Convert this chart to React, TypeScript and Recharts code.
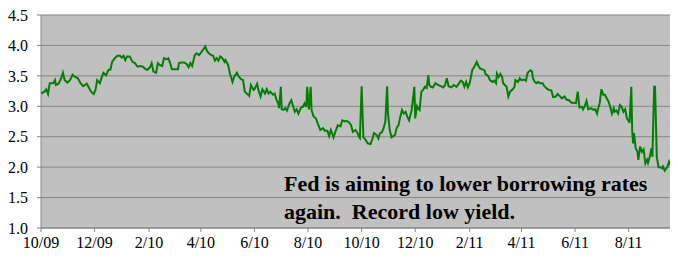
import React from "react";
import { LineChart, Line, XAxis, YAxis, CartesianGrid } from "recharts";

// days since 2009-10-01
const days = [
  0, 4, 6, 8, 10, 14, 16, 17, 20, 23, 25, 27, 30, 33, 36, 38, 42, 45, 48, 52, 54, 57, 60, 62, 64, 67, 69, 71, 74, 77, 79, 81, 84, 87, 90, 92, 94, 96, 98, 101, 104, 107, 110, 113, 116, 119,
  121, 124, 126, 128, 131, 133, 135, 138, 140, 143, 145, 147, 149, 153, 156, 157, 160, 163, 166, 168, 170, 172, 175, 177, 180, 182, 185, 187, 189, 191, 194, 196, 198, 200, 202, 204, 206, 209, 210, 213, 215, 218, 220, 223, 225, 228, 230, 232, 235, 237, 239, 242,
  243, 246, 248, 250, 252, 255, 257, 259, 261, 264, 266, 268, 270, 271, 273, 274, 276, 278, 280, 283, 285, 287, 289, 291, 293, 296, 298, 300, 302, 303, 305, 307, 308, 310, 313, 315, 318, 321, 323, 326, 328, 330, 333, 335, 338, 341, 343, 346, 348, 351, 353, 355, 358, 360, 362, 363,
  365, 367, 369, 372, 375, 377, 379, 382, 384, 386, 388, 390, 392, 394, 395, 397, 399, 401, 403, 405, 407, 409, 411, 413, 415, 417, 419, 421, 422, 425, 426, 428, 429, 431, 433, 435, 437, 439, 441, 442, 444, 446, 449, 452, 455, 458, 460, 462, 464, 467, 470, 473, 476, 478, 480, 482, 484,
  486, 488, 491, 493, 496, 498, 500, 502, 505, 506, 509, 511, 514, 516, 518, 519, 521, 523, 525, 526, 528, 530, 532, 534, 537, 539, 540, 543, 545, 547, 550, 552, 554, 557, 559, 560, 562, 564, 566, 568, 571, 573, 576, 578, 581, 583, 586, 588, 591, 593, 596, 598, 601, 604,
  606, 609, 611, 613, 616, 617, 619, 621, 623, 626, 629, 631, 633, 634, 636, 638, 640, 642, 644, 646, 648, 650, 652, 653, 655, 657, 659, 661, 663, 665, 667, 669, 670, 672, 673, 674, 675, 677, 679, 680, 682, 684, 686, 688, 690, 691, 693, 695, 696, 698, 699, 701, 703, 705, 707, 708, 710, 713, 715, 717, 719, 721, 722, 724,
];

const yields = [
  3.21, 3.24, 3.28, 3.2, 3.38, 3.38, 3.43, 3.35, 3.37, 3.46, 3.55, 3.43, 3.39, 3.43, 3.52, 3.49, 3.46, 3.38, 3.33, 3.37, 3.32, 3.24, 3.2, 3.27, 3.43, 3.38, 3.47, 3.55, 3.51, 3.6, 3.6, 3.73, 3.79, 3.83, 3.83, 3.8, 3.83, 3.76, 3.82, 3.82, 3.73, 3.71, 3.65, 3.66, 3.65, 3.61,
  3.6, 3.64, 3.71, 3.57, 3.55, 3.71, 3.68, 3.66, 3.79, 3.77, 3.79, 3.71, 3.61, 3.61, 3.61, 3.71, 3.72, 3.72, 3.69, 3.64, 3.71, 3.66, 3.84, 3.87, 3.84, 3.88, 3.94, 3.98, 3.91, 3.87, 3.84, 3.83, 3.75, 3.79, 3.75, 3.82, 3.8, 3.73, 3.76, 3.68, 3.54, 3.4, 3.49, 3.55, 3.49, 3.44, 3.43, 3.24, 3.2, 3.17, 3.35, 3.27,
  3.28, 3.37, 3.24, 3.16, 3.28, 3.21, 3.28, 3.21, 3.24, 3.19, 3.21, 3.11, 3.05, 2.97, 3.32, 2.95, 2.94, 2.97, 2.93, 3.05, 3.1, 3.0, 2.91, 2.95, 2.88, 2.98, 2.99, 3.05, 2.99, 3.32, 2.95, 3.32, 2.94, 2.84, 2.8, 2.72, 2.61, 2.64, 2.6, 2.6, 2.51, 2.61, 2.49, 2.58, 2.69, 2.67, 2.77, 2.75, 2.76, 2.73, 2.69, 2.58, 2.61, 2.57, 2.5, 2.48,
  3.33, 2.49, 2.46, 2.39, 2.38, 2.45, 2.56, 2.53, 2.47, 2.56, 2.57, 2.64, 2.75, 3.33, 2.88, 2.61, 2.49, 2.51, 2.53, 2.65, 2.69, 2.83, 2.94, 2.88, 2.91, 2.83, 2.77, 2.88, 2.94, 3.32, 2.8, 3.0, 2.97, 2.94, 3.24, 3.27, 3.32, 3.3, 3.51, 3.35, 3.32, 3.31, 3.38, 3.35, 3.33, 3.31, 3.35, 3.46, 3.33, 3.31, 3.35, 3.32, 3.38, 3.42, 3.4, 3.32, 3.4,
  3.31, 3.38, 3.6, 3.64, 3.73, 3.66, 3.62, 3.61, 3.59, 3.53, 3.5, 3.43, 3.4, 3.42, 3.38, 3.54, 3.48, 3.53, 3.48, 3.38, 3.35, 3.32, 3.16, 3.24, 3.28, 3.32, 3.43, 3.4, 3.46, 3.43, 3.44, 3.42, 3.55, 3.59, 3.57, 3.46, 3.4, 3.38, 3.4, 3.38, 3.38, 3.33, 3.29, 3.27, 3.26, 3.15, 3.16, 3.2, 3.16, 3.13, 3.16, 3.11, 3.1, 3.06,
  3.06, 3.05, 3.24, 2.98, 2.99, 2.95, 3.0, 3.09, 2.95, 2.97, 2.94, 2.95, 2.88, 2.95, 3.05, 3.28, 3.19, 3.19, 3.13, 3.08, 2.99, 2.88, 2.97, 2.91, 2.93, 2.88, 3.02, 2.99, 2.91, 2.95, 2.8, 2.76, 2.73, 3.32, 2.61, 2.39, 2.56, 2.31, 2.25, 2.12, 2.34, 2.25, 2.29, 2.06, 2.12, 2.07, 2.17, 2.31, 2.17, 3.32, 3.32, 2.17, 2.0, 2.0, 1.98, 2.01, 1.94, 2.0, 2.09, 2.02, 1.98, 1.85, 1.72, 1.84,
];

const xTicks = [0, 61, 123, 182, 243, 304, 365, 426, 488, 547, 608, 669];
const xTickLabels = ["10/09", "12/09", "2/10", "4/10", "6/10", "8/10", "10/10", "12/10", "2/11", "4/11", "6/11", "8/11"];
const yTicks = [1.0, 1.5, 2.0, 2.5, 3.0, 3.5, 4.0, 4.5];
const noteLines = ["Fed is aiming to lower borrowing rates", "again.  Record low yield."];

const data = days.map((d, i) => ({ d, v: yields[i] }));

const FONT = "'Liberation Serif', 'Times New Roman', Tinos, 'DejaVu Serif', Times, serif";
const GRID = "#868686";

export default function App() {
  const labelFor = (v: number) => {
    const i = xTicks.indexOf(v);
    return i >= 0 ? xTickLabels[i] : "";
  };
  return (
    <div style={{ position: "relative", width: 670, height: 254, fontFamily: FONT }}>
      <LineChart width={670} height={254} data={data} margin={{ top: 7, right: 1, bottom: 0, left: 0 }} style={{ fontFamily: FONT }}>
        <CartesianGrid vertical={false} stroke={GRID} strokeWidth={1} fill="#c0c0c0" fillOpacity={1} />
        <XAxis
          dataKey="d"
          type="number"
          domain={[0, 724]}
          ticks={xTicks}
          interval={0}
          tickFormatter={labelFor}
          height={34}
          tickSize={4}
          tickMargin={5}
          axisLine={{ stroke: GRID }}
          tickLine={{ stroke: GRID }}
          tick={{ fill: "#000", fontSize: 16, style: { fontFamily: FONT } }}
        />
        <YAxis
          type="number"
          domain={[1, 4.5]}
          ticks={yTicks}
          interval={0}
          tickFormatter={(v: number) => v.toFixed(1)}
          width={33}
          tickSize={4}
          tickMargin={9}
          axisLine={{ stroke: GRID }}
          tickLine={{ stroke: GRID }}
          tick={{ fill: "#000", fontSize: 16, style: { fontFamily: FONT } }}
        />
        <Line
          dataKey="v"
          type="linear"
          stroke="#008000"
          strokeWidth={2}
          dot={false}
          isAnimationActive={false}
        />
      </LineChart>
      <svg
        width={670}
        height={254}
        style={{ position: "absolute", left: 0, top: 0, pointerEvents: "none" }}
      >
        {noteLines.map((t, i) => (
          <text
            key={i}
            x={276}
            y={183 + i * 27.5}
            fontWeight="bold"
            fontSize={22}
            fill="#000"
            style={{ whiteSpace: "pre", fontFamily: FONT }}
          >
            {t}
          </text>
        ))}
      </svg>
    </div>
  );
}
